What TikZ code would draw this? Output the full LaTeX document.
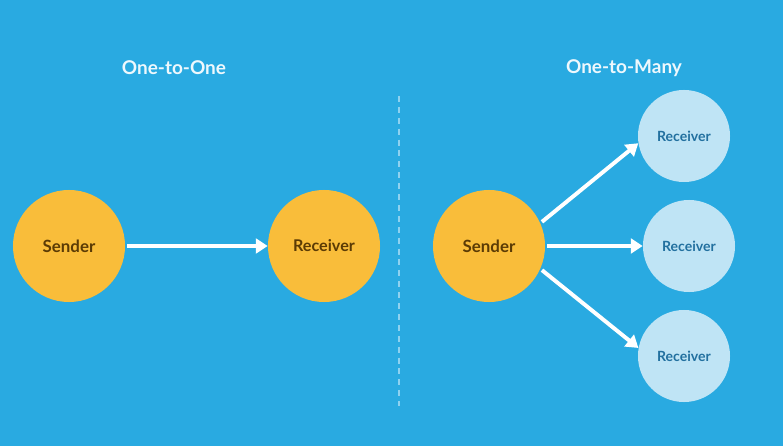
\documentclass[tikz,border=0pt]{standalone}
\usepackage{fontspec}
\setmainfont{Lato}
\usepackage{tikz}
\usetikzlibrary{arrows.meta}
\definecolor{bgblue}{HTML}{29AAE1}
\definecolor{sunny}{HTML}{F9BD3A}
\definecolor{brownish}{HTML}{5B3B05}
\definecolor{paleblue}{HTML}{BFE4F5}
\definecolor{deepblue}{HTML}{22709F}
\definecolor{dashblue}{HTML}{8FD2F0}
\tikzset{send/.style={circle,fill=sunny,text=brownish,minimum size=2.8cm,inner sep=0pt,font=\fontsize{12}{14}\selectfont\bfseries},
         recv/.style={circle,fill=paleblue,text=deepblue,minimum size=2.3cm,inner sep=0pt,font=\fontsize{10}{12}\selectfont\bfseries},
         title/.style={text=white!92!bgblue,font=\fontsize{13.5}{16}\selectfont\bfseries},
         msg/.style={->,white,line width=2.8pt,shorten <=1.4pt}}

\begin{document}
\begin{tikzpicture}[x=0.025cm,y=-0.025cm,>={Triangle[length=8.5pt,width=10.5pt]}]
        \fill[bgblue] (0,0) rectangle (783,446);
        \useasboundingbox (0,0) rectangle (783,446);

        \node[title] (t1) at (174,68) {One-to-One};
        \node[title] (t2) at (624,68) {One-to-Many};

        \coordinate (top) at (399,96);
        \coordinate (bot) at (399,406);
        \draw [dashblue,line width=1.2pt,dash pattern=on 4.25pt off 3.5pt] (top) -- (bot);

        \node[send] (s1) at (69,246) {Sender};
        \node[send,font=\fontsize{11.5}{14}\selectfont\bfseries] (r1) at (324,246) {Receiver};
        \node[send] (s2) at (489,246) {Sender};
        \node[recv] (ra) at (684,136) {Receiver};
        \node[recv] (rb) at (689,246) {Receiver};
        \node[recv] (rc) at (684,356) {Receiver};

        \draw [msg] (s1) to [] (r1);
        \draw [msg] (s2.24) to [] (ra.189);
        \draw [msg] (s2) to [] (rb);
        \draw [msg] (s2.336) to [] (rc.170);
    \end{tikzpicture}
\end{document}
